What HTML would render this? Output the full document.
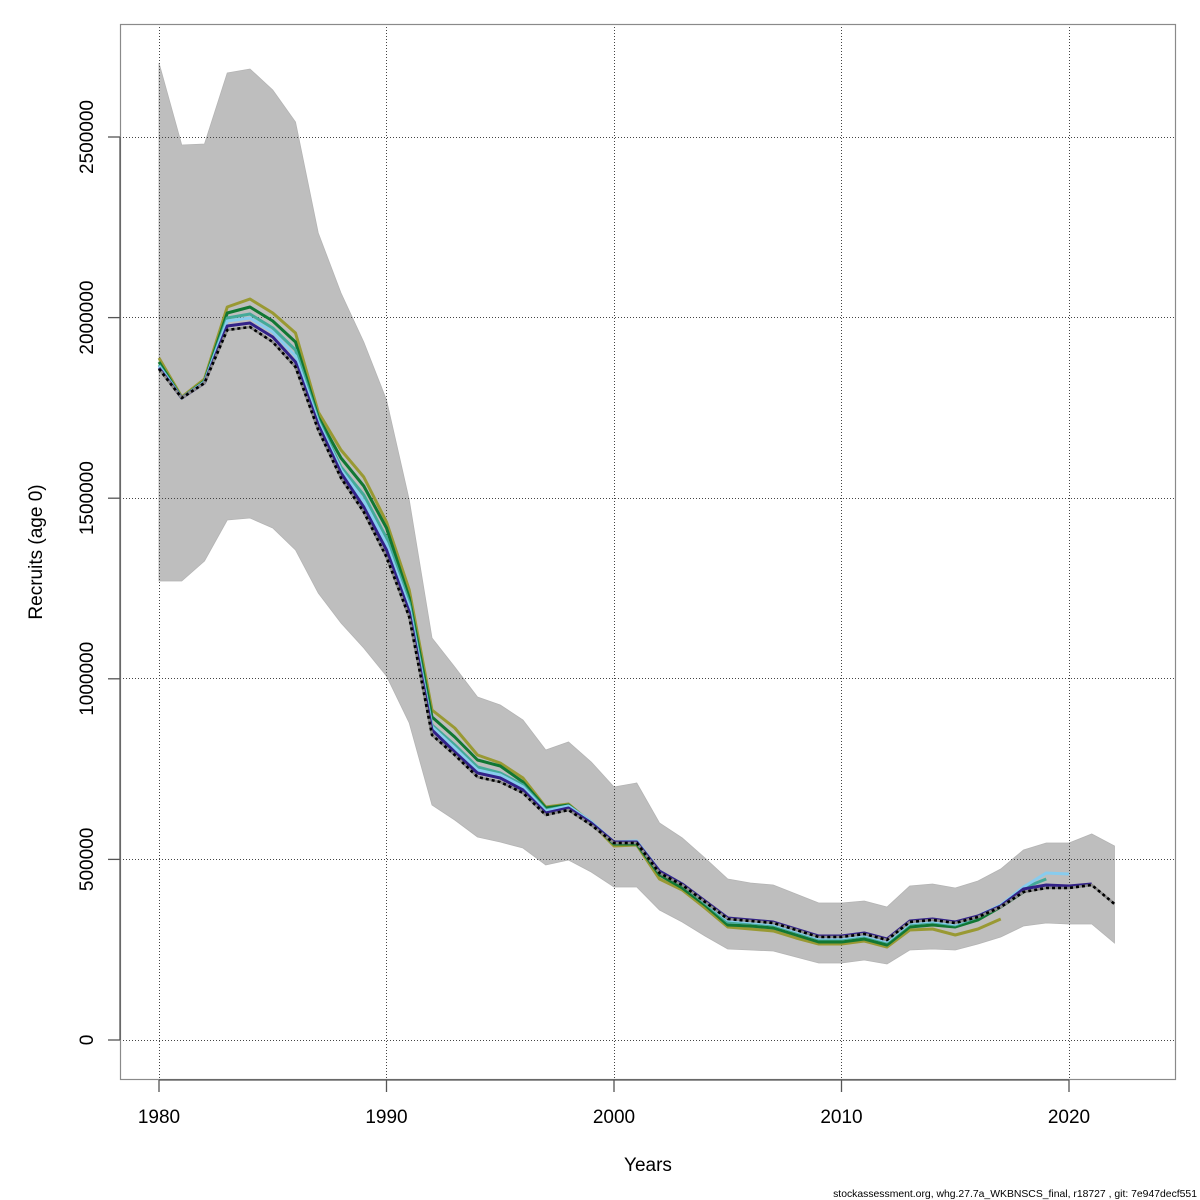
<!DOCTYPE html>
<html><head><meta charset="utf-8"><style>
html,body{margin:0;padding:0;background:#fff;}
svg{display:block;}
text{font-family:"Liberation Sans",Arial,sans-serif;fill:#000;}
</style></head><body>
<svg width="1200" height="1200" viewBox="0 0 1200 1200" xmlns="http://www.w3.org/2000/svg">
<rect x="0" y="0" width="1200" height="1200" fill="#fff"/>
<!-- confidence band -->
<polygon fill="#bebebe" stroke="#b4b4b4" stroke-width="0.8" points="159,63 181.75,145 204.5,144 227.25,73 250,69 272.75,90 295.5,122 318.25,233 341,293 363.75,342 386.5,400 409.25,500 432,638 454.75,667 477.5,697 500.25,705 523,720 545.75,750 568.5,742 591.25,762 614,787 636.75,783 659.5,823 682.25,838 705,858 727.75,879 750.5,883 773.25,885 796,894 818.75,903 841.5,903 864.25,901 887,907 909.75,886 932.5,884 955.25,888 978,881 1000.75,869 1023.5,850 1046.25,843 1069,843 1091.75,834 1114.5,846 1114.5,943 1091.75,924 1069,924 1046.25,923 1023.5,926 1000.75,937 978,944 955.25,950 932.5,949 909.75,950 887,964 864.25,960 841.5,963 818.75,963 796,957 773.25,951 750.5,950 727.75,949 705,936 682.25,922 659.5,910 636.75,887 614,887 591.25,872 568.5,860 545.75,865 523,848 500.25,842 477.5,837 454.75,820 432,805 409.25,723 386.5,676 363.75,648 341,623 318.25,593 295.5,550 272.75,528 250,518 227.25,520 204.5,561 181.75,581 159,581"/>
<!-- grid -->
<g stroke="#444" stroke-width="1" stroke-dasharray="1,2" fill="none">
<line x1="159.5" y1="24" x2="159.5" y2="1080"/>
<line x1="386.5" y1="24" x2="386.5" y2="1080"/>
<line x1="614.5" y1="24" x2="614.5" y2="1080"/>
<line x1="841.5" y1="24" x2="841.5" y2="1080"/>
<line x1="1069.5" y1="24" x2="1069.5" y2="1080"/>
<line x1="120" y1="1040.5" x2="1176" y2="1040.5"/>
<line x1="120" y1="859.5" x2="1176" y2="859.5"/>
<line x1="120" y1="678.5" x2="1176" y2="678.5"/>
<line x1="120" y1="498.5" x2="1176" y2="498.5"/>
<line x1="120" y1="317.5" x2="1176" y2="317.5"/>
<line x1="120" y1="137.5" x2="1176" y2="137.5"/>
</g>
<!-- retro lines -->
<g fill="none" stroke-width="3" stroke-linejoin="round">
<polyline stroke="#999933" points="159,358 181.75,397 204.5,379 227.25,307 250,299 272.75,313 295.5,333 318.25,412 341,450 363.75,477 386.5,522 409.25,590 432,710 454.75,728 477.5,755 500.25,763 523,778 545.75,807 568.5,804 591.25,823 614,846 636.75,845 659.5,879 682.25,890 705,908 727.75,927 750.5,929 773.25,931 796,938 818.75,944 841.5,944 864.25,941 887,947 909.75,930 932.5,929 955.25,935 978,929 1000.75,919"/>
<polyline stroke="#117733" points="159,362 181.75,398 204.5,381 227.25,313 250,307 272.75,321 295.5,342 318.25,417 341,458 363.75,486 386.5,528 409.25,598 432,717 454.75,737 477.5,760 500.25,766 523,782 545.75,808 568.5,805 591.25,823 614,844 636.75,844 659.5,875 682.25,888 705,905 727.75,925 750.5,926 773.25,928 796,935 818.75,942 841.5,942 864.25,939 887,945 909.75,927 932.5,925 955.25,927 978,920 1000.75,907 1023.5,892"/>
<polyline stroke="#44AA99" points="159,365 181.75,398 204.5,382 227.25,318 250,314 272.75,328 295.5,350 318.25,420 341,467 363.75,495 386.5,538 409.25,603 432,725 454.75,745 477.5,767 500.25,773 523,785 545.75,810 568.5,806 591.25,822 614,843 636.75,842 659.5,872 682.25,885 705,903 727.75,922 750.5,923 773.25,925 796,932 818.75,939 841.5,939 864.25,936 887,942 909.75,924 932.5,922 955.25,925 978,917 1000.75,906 1023.5,888 1046.25,879"/>
<polyline stroke="#88CCEE" points="159,366 181.75,398 204.5,382 227.25,321 250,318 272.75,332 295.5,356 318.25,422 341,470 363.75,501 386.5,544 409.25,607 432,727 454.75,748 477.5,770 500.25,775 523,787 545.75,811 568.5,806 591.25,822 614,842 636.75,841 659.5,871 682.25,884 705,902 727.75,920 750.5,922 773.25,924 796,931 818.75,938 841.5,938 864.25,935 887,941 909.75,923 932.5,921 955.25,924 978,916 1000.75,905 1023.5,887 1046.25,873 1069,874"/>
<polyline stroke="#332288" points="159,368 181.75,398 204.5,383 227.25,326 250,323 272.75,337 295.5,362 318.25,425 341,473 363.75,507 386.5,550 409.25,612 432,730 454.75,752 477.5,773 500.25,778 523,790 545.75,813 568.5,808 591.25,823 614,842 636.75,842 659.5,871 682.25,884 705,901 727.75,918 750.5,920 773.25,922 796,929 818.75,936 841.5,936 864.25,933 887,939 909.75,921 932.5,919 955.25,922 978,916 1000.75,906 1023.5,889 1046.25,885 1069,886 1091.75,884"/>
<polyline stroke="#8c8c8c" stroke-width="2.6" points="159,369 181.75,398 204.5,383 227.25,330 250,327 272.75,342 295.5,367 318.25,430 341,478 363.75,512 386.5,557 409.25,617 432,735 454.75,755 477.5,777 500.25,782 523,793 545.75,815 568.5,810 591.25,825 614,843 636.75,843 659.5,873 682.25,885 705,902 727.75,919 750.5,921 773.25,923 796,930 818.75,937 841.5,937 864.25,934 887,940 909.75,922 932.5,920 955.25,923 978,917 1000.75,907 1023.5,892 1046.25,888 1069,888 1091.75,885 1114.5,904"/>
<polyline stroke="#000" stroke-width="2.6" stroke-dasharray="3,3" points="159,369 181.75,398 204.5,383 227.25,330 250,327 272.75,342 295.5,367 318.25,430 341,478 363.75,512 386.5,557 409.25,617 432,735 454.75,755 477.5,777 500.25,782 523,793 545.75,815 568.5,810 591.25,825 614,843 636.75,843 659.5,873 682.25,885 705,902 727.75,919 750.5,921 773.25,923 796,930 818.75,937 841.5,937 864.25,934 887,940 909.75,922 932.5,920 955.25,923 978,917 1000.75,907 1023.5,892 1046.25,888 1069,888 1091.75,885 1114.5,904"/>
</g>
<!-- box -->
<rect x="120.5" y="24.5" width="1055" height="1055" fill="none" stroke="#8a8a8a" stroke-width="1.2"/>
<!-- axes -->
<g stroke="#555" stroke-width="1.3" fill="none">
<line x1="159" y1="1080" x2="1069" y2="1080"/>
<line x1="159" y1="1080" x2="159" y2="1092"/>
<line x1="386.5" y1="1080" x2="386.5" y2="1092"/>
<line x1="614" y1="1080" x2="614" y2="1092"/>
<line x1="841.5" y1="1080" x2="841.5" y2="1092"/>
<line x1="1069" y1="1080" x2="1069" y2="1092"/>
<line x1="120" y1="1040" x2="120" y2="137"/>
<line x1="108" y1="1040" x2="120" y2="1040"/>
<line x1="108" y1="859.4" x2="120" y2="859.4"/>
<line x1="108" y1="678.8" x2="120" y2="678.8"/>
<line x1="108" y1="498.2" x2="120" y2="498.2"/>
<line x1="108" y1="317.6" x2="120" y2="317.6"/>
<line x1="108" y1="137" x2="120" y2="137"/>
</g>
<!-- x tick labels -->
<g font-size="19" text-anchor="middle">
<text x="159" y="1123">1980</text>
<text x="386.5" y="1123">1990</text>
<text x="614" y="1123">2000</text>
<text x="841.5" y="1123">2010</text>
<text x="1069" y="1123">2020</text>
</g>
<!-- y tick labels -->
<g font-size="19" text-anchor="middle">
<text transform="translate(93,1040) rotate(-90)">0</text>
<text transform="translate(93,859.4) rotate(-90)">500000</text>
<text transform="translate(93,678.8) rotate(-90)">1000000</text>
<text transform="translate(93,498.2) rotate(-90)">1500000</text>
<text transform="translate(93,317.6) rotate(-90)">2000000</text>
<text transform="translate(93,137) rotate(-90)">2500000</text>
</g>
<text x="648" y="1171" font-size="19" text-anchor="middle">Years</text>
<text transform="translate(42,552) rotate(-90)" font-size="19" text-anchor="middle">Recruits (age 0)</text>
<text x="1197" y="1197" font-size="10.4" text-anchor="end">stockassessment.org, whg.27.7a_WKBNSCS_final, r18727 , git: 7e947decf551</text>
</svg>
</body></html>
